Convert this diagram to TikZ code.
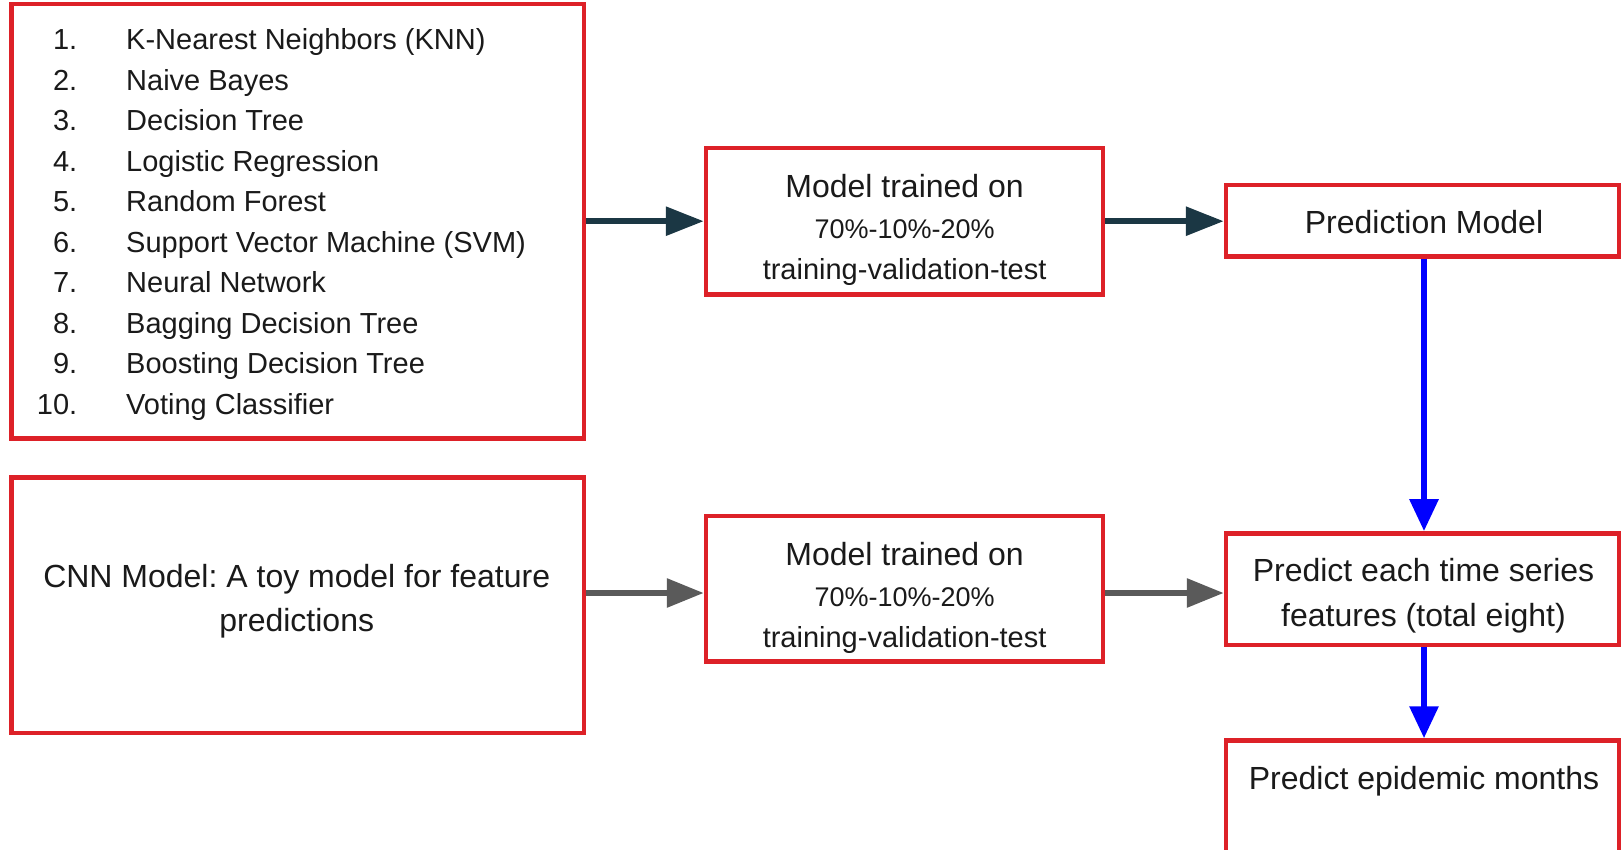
\documentclass[tikz,border=0pt]{standalone}
\usepackage{fontspec}
\setmainfont{Liberation Sans}
\usetikzlibrary{arrows.meta}
\definecolor{boxred}{RGB}{221,33,40}
\definecolor{darkarrow}{RGB}{27,55,68}
\definecolor{greyarrow}{RGB}{90,90,90}
\definecolor{txt}{RGB}{26,26,26}
\frenchspacing
\begin{document}
\begin{tikzpicture}[x=1pt,y=-1pt,
  redbox/.style={draw=boxred,line width=4.5pt,inner sep=0pt,rectangle},
  lbl/.style={anchor=base,inner sep=0pt,text=txt,font=\fontsize{32}{38}\selectfont},
  lblsmall/.style={anchor=base,inner sep=0pt,text=txt,font=\fontsize{29}{34}\selectfont},
  lblpct/.style={anchor=base,inner sep=0pt,text=txt,font=\fontsize{27}{32}\selectfont},
  numlbl/.style={anchor=base east,inner sep=0pt,text=txt,font=\fontsize{29}{34}\selectfont},
  itemlbl/.style={anchor=base west,inner sep=0pt,text=txt,font=\fontsize{29}{34}\selectfont},
  darrow/.style={draw=darkarrow,line width=6pt,-{Triangle[length=38pt,width=28pt]}},
  garrow/.style={draw=greyarrow,line width=6pt,-{Triangle[length=37pt,width=28pt]}},
  barrow/.style={draw=blue,line width=6pt,-{Triangle[length=32pt,width=28pt]}}]
\useasboundingbox (0,0) rectangle (1621,850);
\clip (0,0) rectangle (1621,850);
\fill[white] (0,0) rectangle (1621,850);

% boxes
\node[redbox,minimum width=572.6pt,minimum height=434.2pt] (list) at (297.7,221.2) {};
\node[redbox,minimum width=572.6pt,minimum height=255.4pt] (cnn) at (297.7,605.3) {};
\node[redbox,minimum width=397pt,minimum height=146.8pt] (m1) at (904.5,221.2) {};
\node[redbox,minimum width=397pt,minimum height=145.7pt] (m2) at (904.5,588.75) {};
\node[redbox,minimum width=393pt,minimum height=71.4pt] (pm) at (1422.5,220.7) {};
\node[redbox,minimum width=393pt,minimum height=111.6pt] (pe) at (1422.5,589.2) {};
\node[redbox,minimum width=393pt,minimum height=160pt] (ep) at (1422.5,820.5) {};

% list
\foreach \i/\t in {1/K-Nearest Neighbors (KNN),2/Naive Bayes,3/Decision Tree,4/Logistic Regression,5/Random Forest,6/Support Vector Machine (SVM),7/Neural Network,8/Bagging Decision Tree,9/Boosting Decision Tree,10/Voting Classifier}{
  \node[numlbl] (n\i) at (77.5,{50+40.48*(\i-1)}) {\i.};
  \node[itemlbl] (t\i) at (126,{50+40.48*(\i-1)}) {\t};
}

% texts
\node[lbl] (m1a) at (904.6,197.5) {Model trained on};
\node[lblpct] (m1b) at (904.6,238.9) {70\%-10\%-20\%};
\node[lblsmall] (m1c) at (904.6,279.2) {training-validation-test};
\node[lbl] (m2a) at (904.6,565.6) {Model trained on};
\node[lblpct] (m2b) at (904.6,606.9) {70\%-10\%-20\%};
\node[lblsmall] (m2c) at (904.6,647.2) {training-validation-test};
\node[lbl] (cnna) at (296.7,587.3) {CNN Model: A toy model for feature};
\node[lbl] (cnnb) at (296.7,631.8) {predictions};
\node[lbl] (pmt) at (1424,234) {Prediction Model};
\node[lbl] (pea) at (1423.5,581.9) {Predict each time series};
\node[lbl] (peb) at (1423.5,626.2) {features (total eight)};
\node[lbl] (ept) at (1424,789.5) {Predict epidemic months};

% connectors
\coordinate (ybot) at (0,593);
\draw[darrow] (list.east) -- (m1.west);
\draw[darrow] (m1.east) -- (m1.east -| pm.west);
\draw[garrow] (cnn.east |- ybot) -- (m2.west |- ybot);
\draw[garrow] (m2.east |- ybot) -- (pe.west |- ybot);
\draw[barrow] ([xshift=1.5pt]pm.south) -- ([xshift=1.5pt]pe.north);
\draw[barrow] ([xshift=1.5pt]pe.south) -- ([xshift=1.5pt]ep.north);
\end{tikzpicture}
\end{document}
